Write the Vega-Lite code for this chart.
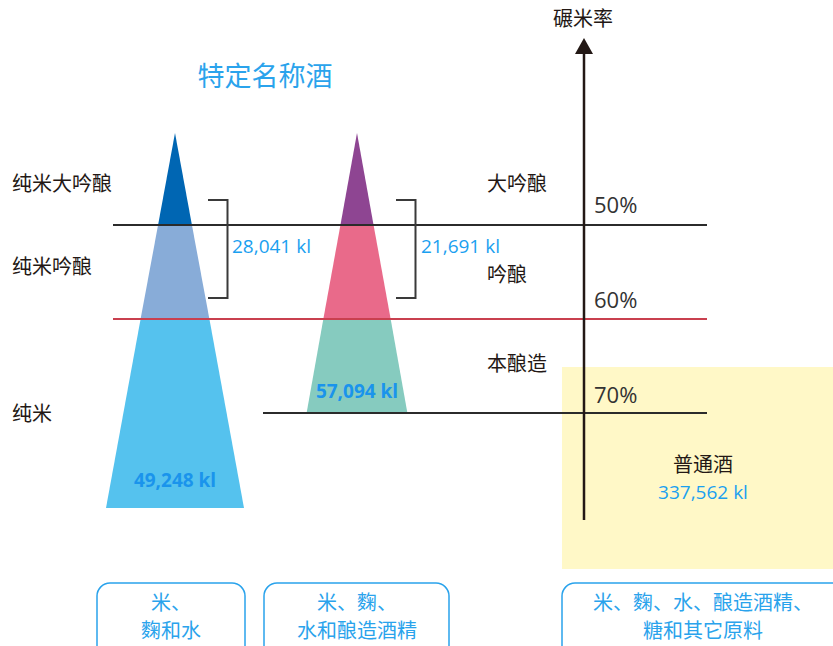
{
  "$schema": "https://vega.github.io/schema/vega-lite/v6.json",
  "width": 833,
  "height": 646,
  "autosize": {"type": "fit", "contains": "padding"},
  "padding": 0,
  "background": "white",
  "config": {"view": {"stroke": null}},
  "datasets": {
    "tri": [
      {"seg": "t1a", "r": 40.21, "x": 175, "x2": 175},
      {"seg": "t1a", "r": 50, "x": 158.07, "x2": 191.93},
      {"seg": "t1b", "r": 50, "x": 158.07, "x2": 191.93},
      {"seg": "t1b", "r": 60, "x": 140.6, "x2": 209.4},
      {"seg": "t1c", "r": 60, "x": 140.6, "x2": 209.4},
      {"seg": "t1c", "r": 80.11, "x": 106, "x2": 244},
      {"seg": "t2a", "r": 40.21, "x": 357, "x2": 357},
      {"seg": "t2a", "r": 50, "x": 340.44, "x2": 373.56},
      {"seg": "t2b", "r": 50, "x": 340.44, "x2": 373.56},
      {"seg": "t2b", "r": 60, "x": 323.34, "x2": 390.66},
      {"seg": "t2c", "r": 60, "x": 323.34, "x2": 390.66},
      {"seg": "t2c", "r": 70, "x": 306.6, "x2": 407.4},
      {"seg": "arrow", "r": 30.11, "x": 584, "x2": 584},
      {"seg": "arrow", "r": 31.81, "x": 575, "x2": 593}
    ],
    "yellow": [{"x": 562, "x2": 833, "r": 65.11, "r2": 86.6}],
    "blackLines": [
      {"x": 113, "x2": 707, "r": 50},
      {"x": 263, "x2": 707, "r": 70}
    ],
    "redLines": [{"x": 113, "x2": 707, "r": 60}],
    "axisLine": [{"x": 584, "r": 31.5, "r2": 81.38}],
    "brackets": [
      {"b": "b1", "o": 1, "x": 208, "r": 47.34},
      {"b": "b1", "o": 2, "x": 227.5, "r": 47.34},
      {"b": "b1", "o": 3, "x": 227.5, "r": 57.77},
      {"b": "b1", "o": 4, "x": 208, "r": 57.77},
      {"b": "b2", "o": 1, "x": 396, "r": 47.34},
      {"b": "b2", "o": 2, "x": 415.5, "r": 47.34},
      {"b": "b2", "o": 3, "x": 415.5, "r": 57.77},
      {"b": "b2", "o": 4, "x": 396, "r": 57.77}
    ],
    "boxes": [
      {"x": 97, "x2": 245, "r": 88.09, "r2": 97},
      {"x": 264, "x2": 449, "r": 88.09, "r2": 97},
      {"x": 562, "x2": 850, "r": 88.09, "r2": 97}
    ],
    "title": [{"x": 265, "r": 34.41, "t": "特定名称酒"}],
    "blackLeft": [
      {"x": 12, "r": 45.74, "t": "纯米大吟酿"},
      {"x": 12, "r": 54.57, "t": "纯米吟酿"},
      {"x": 12, "r": 70.21, "t": "纯米"},
      {"x": 487, "r": 45.74, "t": "大吟酿"},
      {"x": 487, "r": 55.43, "t": "吟酿"},
      {"x": 487, "r": 64.89, "t": "本酿造"}
    ],
    "blackCenter": [
      {"x": 583, "r": 28.24, "t": "碾米率"},
      {"x": 703, "r": 75.64, "t": "普通酒"}
    ],
    "pct": [
      {"x": 594, "r": 48.0, "t": "50%"},
      {"x": 594, "r": 58.1, "t": "60%"},
      {"x": 594, "r": 68.2, "t": "70%"}
    ],
    "volLeft": [
      {"x": 232, "r": 52.34, "t": "28,041 kl"},
      {"x": 421, "r": 52.34, "t": "21,691 kl"}
    ],
    "volCenter": [{"x": 703, "r": 78.51, "t": "337,562 kl"}],
    "volBold": [
      {"x": 357, "r": 67.77, "t": "57,094 kl"},
      {"x": 175, "r": 77.23, "t": "49,248 kl"}
    ],
    "bottom": [
      {"x": 171, "r": 90.32, "t": "米、"},
      {"x": 171, "r": 93.3, "t": "麴和水"},
      {"x": 357, "r": 90.32, "t": "米、麴、"},
      {"x": 357, "r": 93.3, "t": "水和酿造酒精"},
      {"x": 703, "r": 90.32, "t": "米、麴、水、酿造酒精、"},
      {"x": 703, "r": 93.3, "t": "糖和其它原料"}
    ]
  },
  "encoding": {
    "x": {"field": "x", "type": "quantitative", "scale": {"domain": [0, 833], "nice": false, "zero": false}, "axis": null},
    "y": {"field": "r", "type": "quantitative", "scale": {"domain": [26.064, 94.787], "nice": false, "zero": false, "reverse": true}, "axis": null}
  },
  "layer": [
    {
      "data": {"name": "yellow"},
      "mark": {"type": "rect", "color": "#fff8c7", "clip": true},
      "encoding": {"x2": {"field": "x2"}, "y2": {"field": "r2"}}
    },
    {
      "data": {"name": "tri"},
      "mark": {"type": "area", "orient": "horizontal", "opacity": 1},
      "encoding": {
        "x": {"field": "x", "type": "quantitative", "stack": null},
        "x2": {"field": "x2"},
        "color": {"field": "seg", "type": "nominal", "legend": null,
          "scale": {"domain": ["t1a", "t1b", "t1c", "t2a", "t2b", "t2c", "arrow"],
                    "range": ["#0066b3", "#88acd8", "#55c2ee", "#8e4592", "#e96a8a", "#86cbbf", "#231815"]}},
        "detail": {"field": "seg"}
      }
    },
    {
      "data": {"name": "blackLines"},
      "mark": {"type": "rule", "color": "#2b2b2b", "strokeWidth": 2},
      "encoding": {"x2": {"field": "x2"}}
    },
    {
      "data": {"name": "redLines"},
      "mark": {"type": "rule", "color": "#c9404f", "strokeWidth": 2},
      "encoding": {"x2": {"field": "x2"}}
    },
    {
      "data": {"name": "axisLine"},
      "mark": {"type": "rule", "color": "#231815", "strokeWidth": 2.5},
      "encoding": {"y2": {"field": "r2"}}
    },
    {
      "data": {"name": "brackets"},
      "mark": {"type": "line", "color": "#3a3a3a", "strokeWidth": 2},
      "encoding": {"order": {"field": "o", "type": "quantitative"}, "detail": {"field": "b"}}
    },
    {
      "data": {"name": "boxes"},
      "mark": {"type": "rect", "fill": null, "fillOpacity": 0, "stroke": "#2aa3ec", "strokeWidth": 1.5, "cornerRadius": 13, "clip": true},
      "encoding": {"x2": {"field": "x2"}, "y2": {"field": "r2"}}
    },
    {
      "data": {"name": "title"},
      "mark": {"type": "text", "font": "Noto Sans CJK SC", "fontSize": 27, "color": "#2aa3ec", "align": "center", "baseline": "middle"},
      "encoding": {"text": {"field": "t"}}
    },
    {
      "data": {"name": "blackLeft"},
      "mark": {"type": "text", "font": "Noto Sans CJK SC", "fontSize": 20, "color": "#231815", "align": "left", "baseline": "middle"},
      "encoding": {"text": {"field": "t"}}
    },
    {
      "data": {"name": "blackCenter"},
      "mark": {"type": "text", "font": "Noto Sans CJK SC", "fontSize": 20, "color": "#231815", "align": "center", "baseline": "middle"},
      "encoding": {"text": {"field": "t"}}
    },
    {
      "data": {"name": "pct"},
      "mark": {"type": "text", "font": "Open Sans", "fontSize": 22, "color": "#333333", "align": "left", "baseline": "middle"},
      "encoding": {"text": {"field": "t"}}
    },
    {
      "data": {"name": "volLeft"},
      "mark": {"type": "text", "font": "Open Sans", "fontSize": 19, "color": "#1aa0f0", "align": "left", "baseline": "middle"},
      "encoding": {"text": {"field": "t"}}
    },
    {
      "data": {"name": "volCenter"},
      "mark": {"type": "text", "font": "Open Sans", "fontSize": 19, "color": "#1aa0f0", "align": "center", "baseline": "middle"},
      "encoding": {"text": {"field": "t"}}
    },
    {
      "data": {"name": "volBold"},
      "mark": {"type": "text", "font": "Open Sans", "fontSize": 19, "fontWeight": "bold", "color": "#1a94ec", "align": "center", "baseline": "middle"},
      "encoding": {"text": {"field": "t"}}
    },
    {
      "data": {"name": "bottom"},
      "mark": {"type": "text", "font": "Noto Sans CJK SC", "fontSize": 20, "color": "#2aa3ec", "align": "center", "baseline": "middle"},
      "encoding": {"text": {"field": "t"}}
    }
  ]
}
